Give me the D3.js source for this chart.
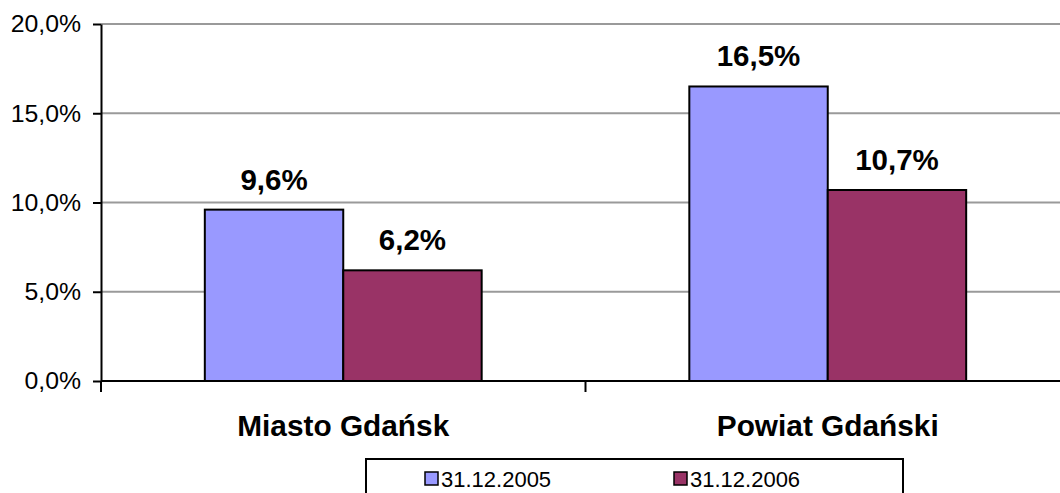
<!DOCTYPE html>
<html>
<head>
<meta charset="utf-8">
<script src="https://cdn.jsdelivr.net/npm/d3@7"></script>
<style>
  body { margin: 0; background: #fff; }
  svg { display: block; font-family: "Liberation Sans", Arial, sans-serif; }
</style>
</head>
<body>
<div id="display"></div>
<script>
const categories = ["Miasto Gdańsk", "Powiat Gdański"]
const series = ["31.12.2005", "31.12.2006"]
const values2005 = [0.096, 0.165]
const values2006 = [0.062, 0.107]
const yTicks = [0, 0.05, 0.10, 0.15, 0.20]
const colors = ["#9999ff", "#993366"]

const width = 1060
const height = 493
const plotLeft = 101, plotRight = 1070, plotTop = 24, plotBottom = 381

const fmt = v => d3.format(".1f")(v * 100).replace(".", ",") + "%"

const svg = d3.select("#display")
  .append("svg")
  .attr("width", width)
  .attr("height", height)

const y = d3.scaleLinear().domain([0, 0.2]).range([plotBottom, plotTop])
const x0 = d3.scaleBand().domain(categories).range([plotLeft, plotRight]).padding(0)
const x1 = d3.scaleBand().domain(series).range([0, x0.bandwidth()]).paddingInner(0).paddingOuter(0.75)

// grid lines
svg.selectAll("line.grid")
  .data(yTicks.filter(t => t > 0))
  .enter()
  .append("line")
    .classed("grid", true)
    .attr("x1", plotLeft).attr("x2", plotRight)
    .attr("y1", d => y(d)).attr("y2", d => y(d))
    .attr("stroke", "#9a9a9a")
    .attr("stroke-width", 2)

// bars
const rows = categories.map((c, i) => ({ cat: c, vals: [values2005[i], values2006[i]] }))
const groups = svg.selectAll("g.cat")
  .data(rows)
  .enter()
  .append("g")
  .attr("transform", d => `translate(${x0(d.cat)},0)`)

groups.selectAll("rect")
  .data(d => d.vals.map((v, j) => ({ s: series[j], v: v, j: j })))
  .enter()
  .append("rect")
    .attr("x", d => x1(d.s))
    .attr("y", d => y(d.v))
    .attr("width", x1.bandwidth())
    .attr("height", d => plotBottom - y(d.v))
    .attr("fill", d => colors[d.j])
    .attr("stroke", "#000")
    .attr("stroke-width", 2)

groups.selectAll("text.val")
  .data(d => d.vals.map((v, j) => ({ s: series[j], v: v })))
  .enter()
  .append("text")
    .classed("val", true)
    .attr("x", d => x1(d.s) + x1.bandwidth() / 2)
    .attr("y", d => y(d.v) - 20)
    .attr("text-anchor", "middle")
    .attr("font-weight", "bold")
    .attr("font-size", 29.5)
    .text(d => fmt(d.v))

// y axis
const yAxis = svg.append("g")
  .attr("transform", `translate(${plotLeft},0)`)
  .call(d3.axisLeft(y).tickValues(yTicks).tickFormat(fmt).tickSize(8).tickSizeOuter(0).tickPadding(12))
yAxis.select(".domain").attr("stroke", "#000").attr("stroke-width", 2)
yAxis.selectAll(".tick line").attr("stroke", "#000").attr("stroke-width", 2)
yAxis.selectAll(".tick text").attr("font-size", 24.8).attr("fill", "#000").attr("font-family", "Liberation Sans, Arial, sans-serif")

// x axis
svg.append("line")
  .attr("x1", plotLeft).attr("x2", plotRight)
  .attr("y1", plotBottom).attr("y2", plotBottom)
  .attr("stroke", "#000").attr("stroke-width", 2)

const boundaries = [plotLeft, x0(categories[1]), plotRight]
svg.selectAll("line.xtick")
  .data(boundaries)
  .enter()
  .append("line")
    .attr("x1", d => d).attr("x2", d => d)
    .attr("y1", plotBottom).attr("y2", plotBottom + 11)
    .attr("stroke", "#000").attr("stroke-width", 2)

svg.selectAll("text.cat")
  .data(categories)
  .enter()
  .append("text")
    .attr("x", d => x0(d) + x0.bandwidth() / 2)
    .attr("y", 436)
    .attr("text-anchor", "middle")
    .attr("font-weight", "bold")
    .attr("font-size", 29.8)
    .text(d => d)

// legend
svg.append("rect")
  .attr("x", 366).attr("y", 459)
  .attr("width", 537).attr("height", 50)
  .attr("fill", "#fff").attr("stroke", "#000").attr("stroke-width", 2)

const legend = svg.selectAll("g.leg")
  .data(series)
  .enter()
  .append("g")
  .attr("transform", (d, i) => `translate(${425 + i * 249},0)`)

legend.append("rect")
  .attr("x", 0).attr("y", 472)
  .attr("width", 13).attr("height", 13)
  .attr("fill", (d, i) => colors[i])
  .attr("stroke", "#000").attr("stroke-width", 1.5)

legend.append("text")
  .attr("x", 16).attr("y", 487)
  .attr("font-size", 22)
  .text(d => d)
</script>
</body>
</html>
